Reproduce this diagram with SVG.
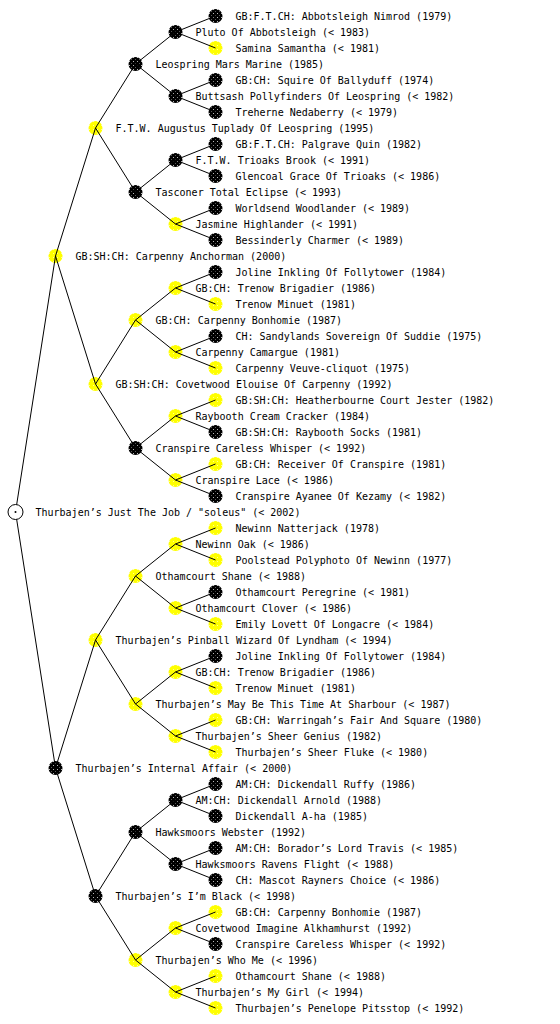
<svg xmlns="http://www.w3.org/2000/svg" width="560" height="1024" viewBox="0 0 560 1024">
<defs>
<pattern id="pb" width="4" height="4" patternUnits="userSpaceOnUse"><rect width="4" height="4" fill="#000"/><rect x="1" y="1" width="1" height="1" fill="#bbb"/><rect x="3" y="3" width="1" height="1" fill="#555"/></pattern>
<pattern id="py" width="4" height="4" patternUnits="userSpaceOnUse"><rect width="4" height="4" fill="#ffff00"/><rect x="1" y="1" width="1" height="1" fill="#ffff90"/></pattern>
</defs>
<style>
.b{fill:url(#pb)}
.y{fill:url(#py)}
circle{stroke:none}
.root{fill:#fff;stroke:#000;stroke-width:1}
text{font-family:"DejaVu Sans Mono","Liberation Mono",monospace;font-size:10px;fill:#000}
#edges line{stroke:#000;stroke-width:1}
</style>
<rect width="560" height="1024" fill="#fff"/>
<g id="nodes">
<g id="n-root"><circle class="root" cx="15.5" cy="512" r="7.5"/><circle cx="15.5" cy="512" r="1" fill="#000"/><text x="35.5" y="516">Thurbajen’s Just The Job / "soleus" (&lt; 2002)</text></g>
<g id="n-256"><circle class="y" cx="55.5" cy="256" r="7"/><text x="75.5" y="260">GB:SH:CH: Carpenny Anchorman (2000)</text></g>
<g id="n-768"><circle class="b" cx="55.5" cy="768" r="7"/><text x="75.5" y="772">Thurbajen’s Internal Affair (&lt; 2000)</text></g>
<g id="n-128"><circle class="y" cx="95.5" cy="128" r="7"/><text x="115.5" y="132">F.T.W. Augustus Tuplady Of Leospring (1995)</text></g>
<g id="n-384"><circle class="y" cx="95.5" cy="384" r="7"/><text x="115.5" y="388">GB:SH:CH: Covetwood Elouise Of Carpenny (1992)</text></g>
<g id="n-640"><circle class="y" cx="95.5" cy="640" r="7"/><text x="115.5" y="644">Thurbajen’s Pinball Wizard Of Lyndham (&lt; 1994)</text></g>
<g id="n-896"><circle class="b" cx="95.5" cy="896" r="7"/><text x="115.5" y="900">Thurbajen’s I’m Black (&lt; 1998)</text></g>
<g id="n-64"><circle class="b" cx="135.5" cy="64" r="7"/><text x="155.5" y="68">Leospring Mars Marine (1985)</text></g>
<g id="n-192"><circle class="b" cx="135.5" cy="192" r="7"/><text x="155.5" y="196">Tasconer Total Eclipse (&lt; 1993)</text></g>
<g id="n-320"><circle class="y" cx="135.5" cy="320" r="7"/><text x="155.5" y="324">GB:CH: Carpenny Bonhomie (1987)</text></g>
<g id="n-448"><circle class="b" cx="135.5" cy="448" r="7"/><text x="155.5" y="452">Cranspire Careless Whisper (&lt; 1992)</text></g>
<g id="n-576"><circle class="y" cx="135.5" cy="576" r="7"/><text x="155.5" y="580">Othamcourt Shane (&lt; 1988)</text></g>
<g id="n-704"><circle class="y" cx="135.5" cy="704" r="7"/><text x="155.5" y="708">Thurbajen’s May Be This Time At Sharbour (&lt; 1987)</text></g>
<g id="n-832"><circle class="b" cx="135.5" cy="832" r="7"/><text x="155.5" y="836">Hawksmoors Webster (1992)</text></g>
<g id="n-960"><circle class="y" cx="135.5" cy="960" r="7"/><text x="155.5" y="964">Thurbajen’s Who Me (&lt; 1996)</text></g>
<g id="n-32"><circle class="b" cx="175.5" cy="32" r="7"/><text x="195.5" y="36">Pluto Of Abbotsleigh (&lt; 1983)</text></g>
<g id="n-96"><circle class="b" cx="175.5" cy="96" r="7"/><text x="195.5" y="100">Buttsash Pollyfinders Of Leospring (&lt; 1982)</text></g>
<g id="n-160"><circle class="b" cx="175.5" cy="160" r="7"/><text x="195.5" y="164">F.T.W. Trioaks Brook (&lt; 1991)</text></g>
<g id="n-224"><circle class="y" cx="175.5" cy="224" r="7"/><text x="195.5" y="228">Jasmine Highlander (&lt; 1991)</text></g>
<g id="n-288"><circle class="y" cx="175.5" cy="288" r="7"/><text x="195.5" y="292">GB:CH: Trenow Brigadier (1986)</text></g>
<g id="n-352"><circle class="y" cx="175.5" cy="352" r="7"/><text x="195.5" y="356">Carpenny Camargue (1981)</text></g>
<g id="n-416"><circle class="y" cx="175.5" cy="416" r="7"/><text x="195.5" y="420">Raybooth Cream Cracker (1984)</text></g>
<g id="n-480"><circle class="y" cx="175.5" cy="480" r="7"/><text x="195.5" y="484">Cranspire Lace (&lt; 1986)</text></g>
<g id="n-544"><circle class="y" cx="175.5" cy="544" r="7"/><text x="195.5" y="548">Newinn Oak (&lt; 1986)</text></g>
<g id="n-608"><circle class="y" cx="175.5" cy="608" r="7"/><text x="195.5" y="612">Othamcourt Clover (&lt; 1986)</text></g>
<g id="n-672"><circle class="y" cx="175.5" cy="672" r="7"/><text x="195.5" y="676">GB:CH: Trenow Brigadier (1986)</text></g>
<g id="n-736"><circle class="y" cx="175.5" cy="736" r="7"/><text x="195.5" y="740">Thurbajen’s Sheer Genius (1982)</text></g>
<g id="n-800"><circle class="b" cx="175.5" cy="800" r="7"/><text x="195.5" y="804">AM:CH: Dickendall Arnold (1988)</text></g>
<g id="n-864"><circle class="b" cx="175.5" cy="864" r="7"/><text x="195.5" y="868">Hawksmoors Ravens Flight (&lt; 1988)</text></g>
<g id="n-928"><circle class="y" cx="175.5" cy="928" r="7"/><text x="195.5" y="932">Covetwood Imagine Alkhamhurst (1992)</text></g>
<g id="n-992"><circle class="y" cx="175.5" cy="992" r="7"/><text x="195.5" y="996">Thurbajen’s My Girl (&lt; 1994)</text></g>
<g id="n-16"><circle class="b" cx="215.5" cy="16" r="7"/><text x="235.5" y="20">GB:F.T.CH: Abbotsleigh Nimrod (1979)</text></g>
<g id="n-48"><circle class="y" cx="215.5" cy="48" r="7"/><text x="235.5" y="52">Samina Samantha (&lt; 1981)</text></g>
<g id="n-80"><circle class="b" cx="215.5" cy="80" r="7"/><text x="235.5" y="84">GB:CH: Squire Of Ballyduff (1974)</text></g>
<g id="n-112"><circle class="b" cx="215.5" cy="112" r="7"/><text x="235.5" y="116">Treherne Nedaberry (&lt; 1979)</text></g>
<g id="n-144"><circle class="b" cx="215.5" cy="144" r="7"/><text x="235.5" y="148">GB:F.T.CH: Palgrave Quin (1982)</text></g>
<g id="n-176"><circle class="b" cx="215.5" cy="176" r="7"/><text x="235.5" y="180">Glencoal Grace Of Trioaks (&lt; 1986)</text></g>
<g id="n-208"><circle class="b" cx="215.5" cy="208" r="7"/><text x="235.5" y="212">Worldsend Woodlander (&lt; 1989)</text></g>
<g id="n-240"><circle class="b" cx="215.5" cy="240" r="7"/><text x="235.5" y="244">Bessinderly Charmer (&lt; 1989)</text></g>
<g id="n-272"><circle class="b" cx="215.5" cy="272" r="7"/><text x="235.5" y="276">Joline Inkling Of Follytower (1984)</text></g>
<g id="n-304"><circle class="y" cx="215.5" cy="304" r="7"/><text x="235.5" y="308">Trenow Minuet (1981)</text></g>
<g id="n-336"><circle class="b" cx="215.5" cy="336" r="7"/><text x="235.5" y="340">CH: Sandylands Sovereign Of Suddie (1975)</text></g>
<g id="n-368"><circle class="y" cx="215.5" cy="368" r="7"/><text x="235.5" y="372">Carpenny Veuve-cliquot (1975)</text></g>
<g id="n-400"><circle class="y" cx="215.5" cy="400" r="7"/><text x="235.5" y="404">GB:SH:CH: Heatherbourne Court Jester (1982)</text></g>
<g id="n-432"><circle class="b" cx="215.5" cy="432" r="7"/><text x="235.5" y="436">GB:SH:CH: Raybooth Socks (1981)</text></g>
<g id="n-464"><circle class="y" cx="215.5" cy="464" r="7"/><text x="235.5" y="468">GB:CH: Receiver Of Cranspire (1981)</text></g>
<g id="n-496"><circle class="b" cx="215.5" cy="496" r="7"/><text x="235.5" y="500">Cranspire Ayanee Of Kezamy (&lt; 1982)</text></g>
<g id="n-528"><circle class="y" cx="215.5" cy="528" r="7"/><text x="235.5" y="532">Newinn Natterjack (1978)</text></g>
<g id="n-560"><circle class="y" cx="215.5" cy="560" r="7"/><text x="235.5" y="564">Poolstead Polyphoto Of Newinn (1977)</text></g>
<g id="n-592"><circle class="b" cx="215.5" cy="592" r="7"/><text x="235.5" y="596">Othamcourt Peregrine (&lt; 1981)</text></g>
<g id="n-624"><circle class="y" cx="215.5" cy="624" r="7"/><text x="235.5" y="628">Emily Lovett Of Longacre (&lt; 1984)</text></g>
<g id="n-656"><circle class="b" cx="215.5" cy="656" r="7"/><text x="235.5" y="660">Joline Inkling Of Follytower (1984)</text></g>
<g id="n-688"><circle class="y" cx="215.5" cy="688" r="7"/><text x="235.5" y="692">Trenow Minuet (1981)</text></g>
<g id="n-720"><circle class="y" cx="215.5" cy="720" r="7"/><text x="235.5" y="724">GB:CH: Warringah’s Fair And Square (1980)</text></g>
<g id="n-752"><circle class="y" cx="215.5" cy="752" r="7"/><text x="235.5" y="756">Thurbajen’s Sheer Fluke (&lt; 1980)</text></g>
<g id="n-784"><circle class="b" cx="215.5" cy="784" r="7"/><text x="235.5" y="788">AM:CH: Dickendall Ruffy (1986)</text></g>
<g id="n-816"><circle class="b" cx="215.5" cy="816" r="7"/><text x="235.5" y="820">Dickendall A-ha (1985)</text></g>
<g id="n-848"><circle class="b" cx="215.5" cy="848" r="7"/><text x="235.5" y="852">AM:CH: Borador’s Lord Travis (&lt; 1985)</text></g>
<g id="n-880"><circle class="b" cx="215.5" cy="880" r="7"/><text x="235.5" y="884">CH: Mascot Rayners Choice (&lt; 1986)</text></g>
<g id="n-912"><circle class="y" cx="215.5" cy="912" r="7"/><text x="235.5" y="916">GB:CH: Carpenny Bonhomie (1987)</text></g>
<g id="n-944"><circle class="b" cx="215.5" cy="944" r="7"/><text x="235.5" y="948">Cranspire Careless Whisper (&lt; 1992)</text></g>
<g id="n-976"><circle class="y" cx="215.5" cy="976" r="7"/><text x="235.5" y="980">Othamcourt Shane (&lt; 1988)</text></g>
<g id="n-1008"><circle class="y" cx="215.5" cy="1008" r="7"/><text x="235.5" y="1012">Thurbajen’s Penelope Pitsstop (&lt; 1992)</text></g>
</g>
<g id="edges">
<line x1="16.66" y1="504.59" x2="55.5" y2="256"/>
<line x1="16.66" y1="519.41" x2="55.5" y2="768"/>
<line x1="55.5" y1="256" x2="95.5" y2="128"/>
<line x1="55.5" y1="256" x2="95.5" y2="384"/>
<line x1="55.5" y1="768" x2="95.5" y2="640"/>
<line x1="55.5" y1="768" x2="95.5" y2="896"/>
<line x1="95.5" y1="128" x2="135.5" y2="64"/>
<line x1="95.5" y1="128" x2="135.5" y2="192"/>
<line x1="95.5" y1="384" x2="135.5" y2="320"/>
<line x1="95.5" y1="384" x2="135.5" y2="448"/>
<line x1="95.5" y1="640" x2="135.5" y2="576"/>
<line x1="95.5" y1="640" x2="135.5" y2="704"/>
<line x1="95.5" y1="896" x2="135.5" y2="832"/>
<line x1="95.5" y1="896" x2="135.5" y2="960"/>
<line x1="135.5" y1="64" x2="175.5" y2="32"/>
<line x1="135.5" y1="64" x2="175.5" y2="96"/>
<line x1="135.5" y1="192" x2="175.5" y2="160"/>
<line x1="135.5" y1="192" x2="175.5" y2="224"/>
<line x1="135.5" y1="320" x2="175.5" y2="288"/>
<line x1="135.5" y1="320" x2="175.5" y2="352"/>
<line x1="135.5" y1="448" x2="175.5" y2="416"/>
<line x1="135.5" y1="448" x2="175.5" y2="480"/>
<line x1="135.5" y1="576" x2="175.5" y2="544"/>
<line x1="135.5" y1="576" x2="175.5" y2="608"/>
<line x1="135.5" y1="704" x2="175.5" y2="672"/>
<line x1="135.5" y1="704" x2="175.5" y2="736"/>
<line x1="135.5" y1="832" x2="175.5" y2="800"/>
<line x1="135.5" y1="832" x2="175.5" y2="864"/>
<line x1="135.5" y1="960" x2="175.5" y2="928"/>
<line x1="135.5" y1="960" x2="175.5" y2="992"/>
<line x1="175.5" y1="32" x2="215.5" y2="16"/>
<line x1="175.5" y1="32" x2="215.5" y2="48"/>
<line x1="175.5" y1="96" x2="215.5" y2="80"/>
<line x1="175.5" y1="96" x2="215.5" y2="112"/>
<line x1="175.5" y1="160" x2="215.5" y2="144"/>
<line x1="175.5" y1="160" x2="215.5" y2="176"/>
<line x1="175.5" y1="224" x2="215.5" y2="208"/>
<line x1="175.5" y1="224" x2="215.5" y2="240"/>
<line x1="175.5" y1="288" x2="215.5" y2="272"/>
<line x1="175.5" y1="288" x2="215.5" y2="304"/>
<line x1="175.5" y1="352" x2="215.5" y2="336"/>
<line x1="175.5" y1="352" x2="215.5" y2="368"/>
<line x1="175.5" y1="416" x2="215.5" y2="400"/>
<line x1="175.5" y1="416" x2="215.5" y2="432"/>
<line x1="175.5" y1="480" x2="215.5" y2="464"/>
<line x1="175.5" y1="480" x2="215.5" y2="496"/>
<line x1="175.5" y1="544" x2="215.5" y2="528"/>
<line x1="175.5" y1="544" x2="215.5" y2="560"/>
<line x1="175.5" y1="608" x2="215.5" y2="592"/>
<line x1="175.5" y1="608" x2="215.5" y2="624"/>
<line x1="175.5" y1="672" x2="215.5" y2="656"/>
<line x1="175.5" y1="672" x2="215.5" y2="688"/>
<line x1="175.5" y1="736" x2="215.5" y2="720"/>
<line x1="175.5" y1="736" x2="215.5" y2="752"/>
<line x1="175.5" y1="800" x2="215.5" y2="784"/>
<line x1="175.5" y1="800" x2="215.5" y2="816"/>
<line x1="175.5" y1="864" x2="215.5" y2="848"/>
<line x1="175.5" y1="864" x2="215.5" y2="880"/>
<line x1="175.5" y1="928" x2="215.5" y2="912"/>
<line x1="175.5" y1="928" x2="215.5" y2="944"/>
<line x1="175.5" y1="992" x2="215.5" y2="976"/>
<line x1="175.5" y1="992" x2="215.5" y2="1008"/>
</g>
</svg>
